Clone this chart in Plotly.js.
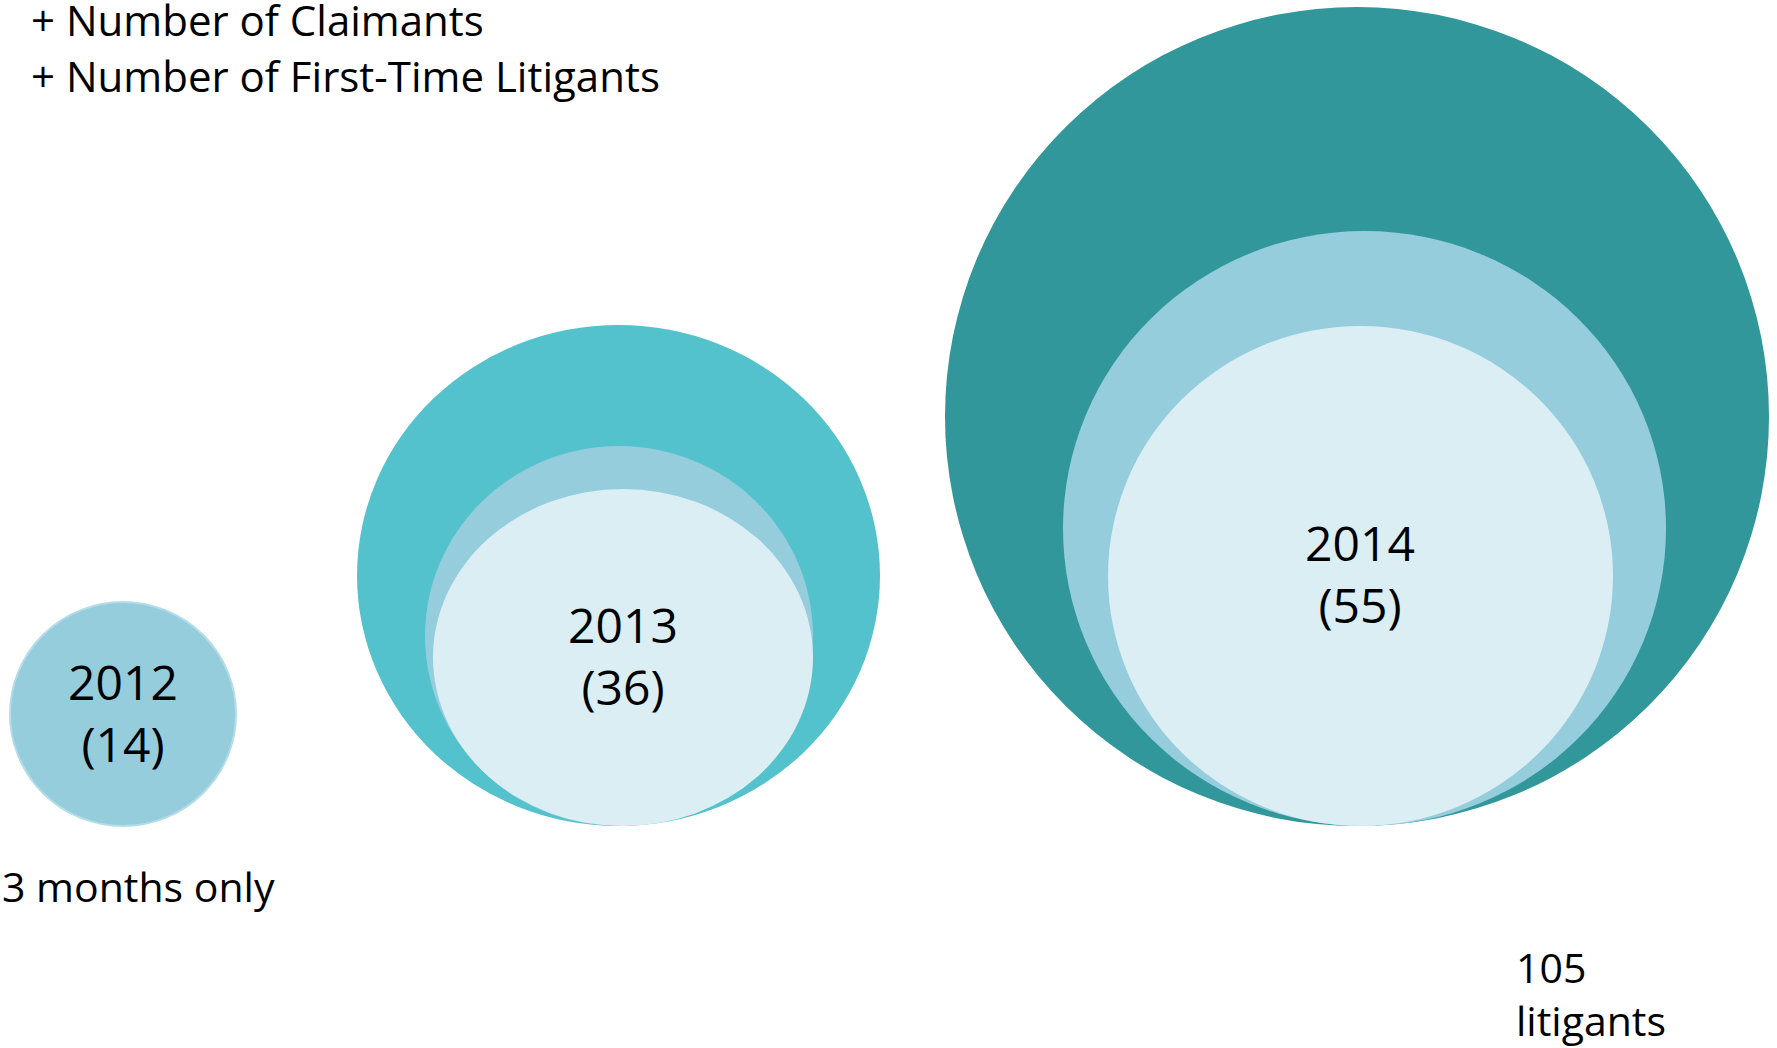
<!DOCTYPE html>
<html>
<head>
<meta charset="utf-8">
<script src="https://cdn.plot.ly/plotly-3.0.1.min.js"></script>
<style>
  html, body { margin: 0; padding: 0; background: #fff; }
  #chart { width: 1777px; height: 1048px; }
</style>
</head>
<body>
<div id="chart"></div>
<script>
// data
const years = ['2012', '2013', '2014'];
const firstTimeLitigants = [14, 36, 55];   // number in brackets
const totalLitigants2014 = 105;
const legendLines = ['+ Number of Claimants', '+ Number of First-Time Litigants'];
const periodNote = '3 months only';

// ring boxes per year (outer -> inner), page pixels, x0 x1 y0 y1
const ringBoxes = [
  [[10, 236, 602, 826]],
  [[357, 880, 325, 826], [425, 813, 446, 826], [433, 813, 489, 826]],
  [[945, 1769, 7, 826], [1063, 1666, 231, 826], [1108, 1613, 326, 826]]
];
const ringColors = [
  ['#95CDDD'],
  ['#54C2CD', '#95CDDD', '#DBEEF3'],
  ['#31979B', '#95CDDD', '#DBEEF3']
];
const labelX = [123, 623, 1360];
const labelY = [719, 662, 580];

const FONT = "'Open Sans', 'Liberation Sans', sans-serif";

const shapes = [];
ringBoxes.forEach((rings, i) => {
  rings.forEach((b, j) => {
    shapes.push({
      type: 'circle', layer: 'below', xref: 'x', yref: 'y',
      x0: b[0], x1: b[1], y0: b[2], y1: b[3],
      fillcolor: ringColors[i][j],
      line: i === 0 ? { color: '#B3DDE8', width: 2 } : { width: 0 }
    });
  });
});

const labels = {
  x: labelX,
  y: labelY,
  mode: 'text',
  type: 'scatter',
  text: years.map((y, i) => `${y}<br>(${firstTimeLitigants[i]})`),
  textposition: 'middle center',
  textfont: { family: FONT, size: 48, color: '#000' },
  hoverinfo: 'skip',
  showlegend: false
};

const annotations = [
  { x: 29, y: 19, text: legendLines[0] },
  { x: 29, y: 75, text: legendLines[1] },
  { x: 0, y: 886, text: periodNote, size: 41 },
  { x: 1514, y: 993, text: `${totalLitigants2014}<br>litigants`, size: 41 }
].map(a => ({
  xref: 'x', yref: 'y', x: a.x, y: a.y, text: a.text,
  xanchor: 'left', yanchor: 'middle', align: 'left', showarrow: false,
  font: { family: FONT, size: a.size || 42, color: '#000' }
}));

const layout = {
  width: 1777,
  height: 1048,
  margin: { l: 0, r: 0, t: 0, b: 0 },
  paper_bgcolor: '#fff',
  plot_bgcolor: '#fff',
  xaxis: { range: [0, 1777], visible: false, fixedrange: true },
  yaxis: { range: [1048, 0], visible: false, fixedrange: true },
  shapes: shapes,
  annotations: annotations,
  showlegend: false
};

Plotly.newPlot('chart', [labels], layout, { displayModeBar: false, staticPlot: true });
</script>
</body>
</html>
